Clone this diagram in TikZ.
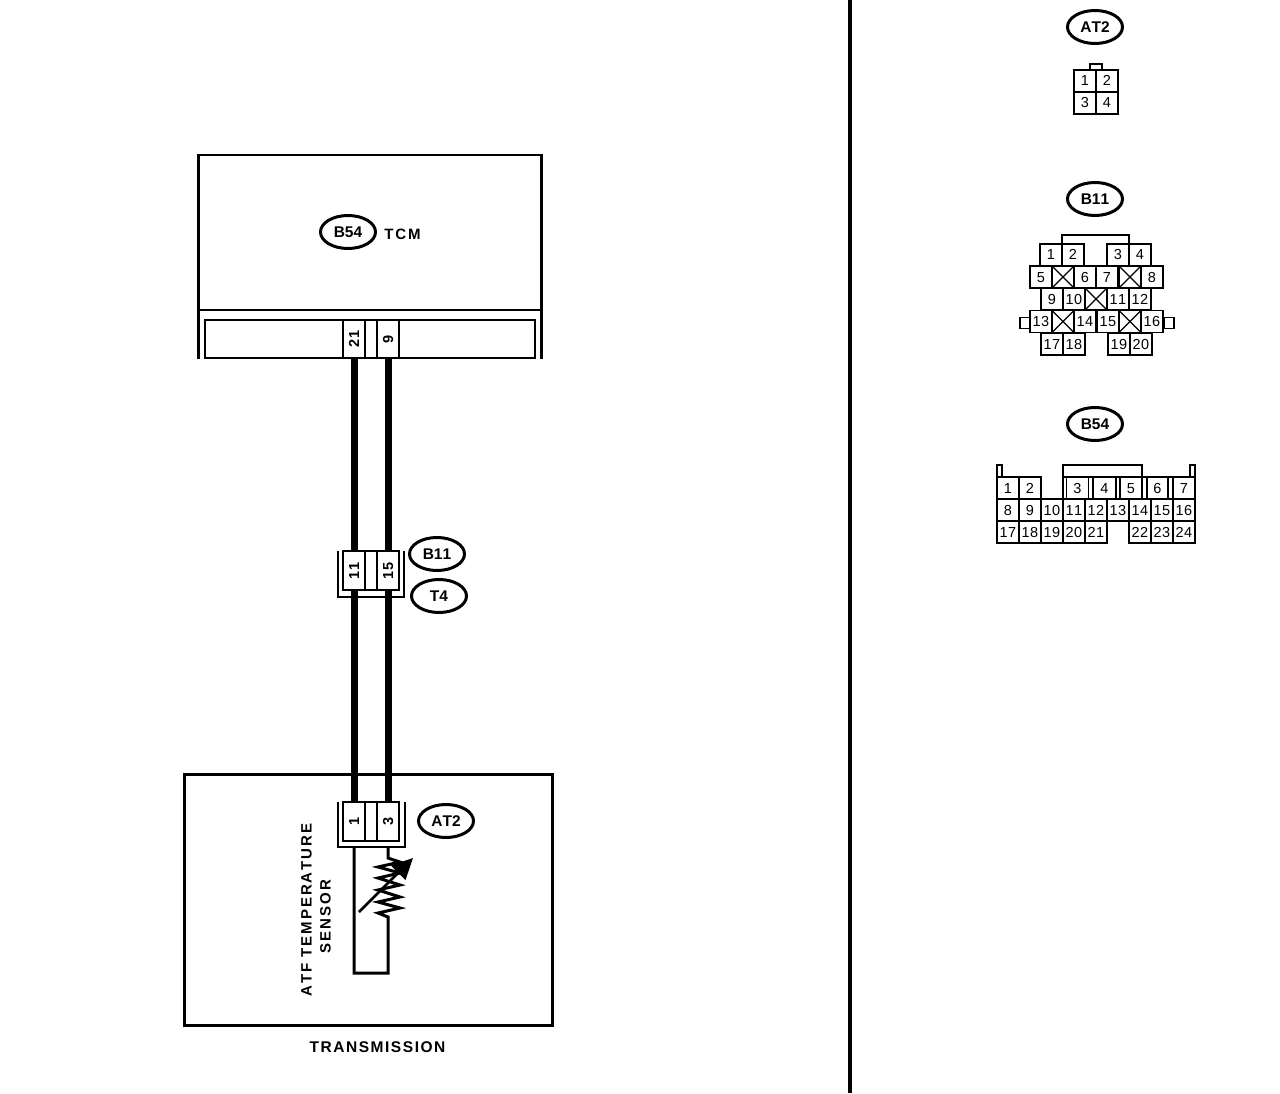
\documentclass[tikz,border=0pt]{standalone}
\usepackage{fontspec}
\setmainfont[Kerning=Off]{Liberation Sans}
\usetikzlibrary{arrows.meta,shapes.geometric}
\newcommand{\pxfont}[1]{\fontsize{#1}{#1}\selectfont}
\tikzset{
  x=1pt,y=-1pt,
  hair/.style={line width=1.2pt,draw=black},
  heavy/.style={line width=2.8pt,draw=black,line join=miter},
  wire/.style={line width=7pt,draw=black},
  tagell/.style={ellipse,draw=black,line width=3pt,minimum width=55pt,minimum height=33pt,inner sep=0pt,text height=11pt,text depth=0pt,font=\pxfont{15.5}\bfseries},
  cellbox/.style={rectangle,draw=black,line width=1.2pt,minimum width=22pt,minimum height=22pt,inner sep=0pt,outer sep=0pt,text height=10pt,text depth=0pt,font=\pxfont{14.5}\addfontfeature{LetterSpace=3}},
  pinbox/.style={rectangle,draw=black,line width=2.6pt,rotate=90,minimum width=39pt,minimum height=22pt,inner sep=0pt,outer sep=0pt,text height=10pt,text depth=0pt,font=\pxfont{14.5}\bfseries\addfontfeature{LetterSpace=6}},
  gapbox/.style={rectangle,draw=black,line width=2.6pt,minimum height=39pt,minimum width=12pt,inner sep=0pt,outer sep=0pt},
  lbl/.style={inner sep=0pt,text height=11pt,text depth=0pt,font=\pxfont{15}\bfseries\addfontfeature{LetterSpace=13}},
}
\begin{document}
\begin{tikzpicture}
\useasboundingbox (0,0) rectangle (1280,1094);
\fill[white] (0,0) rectangle (1280,1094);
% divider
\coordinate (divtop) at (850,0);
\coordinate (divbot) at (850,1093);
\draw[black,line width=4pt] (divtop) -- (divbot);

% TCM
\node[draw=black,line width=2.8pt,minimum width=343pt,minimum height=155pt,inner sep=0,outer sep=0,rectangle] (tcm) at (370,232.5) {};
\coordinate (tcmL) at (198.5,359); \coordinate (tcmR) at (541.5,359);
\draw[heavy] (tcm.south west) -- (tcmL);
\draw[heavy] (tcm.south east) -- (tcmR);
\node[rectangle,draw=black,line width=2.8pt,minimum width=330pt,minimum height=38pt,inner sep=0,outer sep=0] (tcmbar) at (370,339) {};
\node[tagell] (tagB54a) at (348,232) {B54};
\node[lbl] (tcmtxt) at (402.5,234) {TCM};
\node[pinbox,minimum width=38pt] (p21) at (354,339) {21};
\node[gapbox,minimum height=38pt] (g1) at (371,339) {};
\node[pinbox,minimum width=38pt] (p9) at (388,339) {9};

% B11/T4 joint
\node[pinbox] (p11) at (354,570.5) {11};
\node[gapbox] (g2) at (371,570.5) {};
\node[pinbox] (p15) at (388,570.5) {15};
\coordinate (ua) at (338,551); \coordinate (ub) at (338,597); \coordinate (uc) at (404,597); \coordinate (ud) at (404,551);
\node[tagell] (tagB11a) at (437,554) {B11};
\node[tagell] (tagT4) at (439,596) {T4};

% Transmission
\node[draw=black,line width=2.8pt,rectangle,minimum width=368pt,minimum height=251pt,inner sep=0,outer sep=0] (trans) at (368.5,900) {};
\node[lbl,font=\pxfont{15.5}\bfseries\addfontfeature{LetterSpace=10}] (transtxt) at (377.5,1047) {TRANSMISSION};

% AT2 joint
\node[pinbox] (p1) at (354,821.5) {1};
\node[gapbox] (g3) at (371,821.5) {};
\node[pinbox] (p3) at (388,821.5) {3};
\coordinate (va) at (338,802); \coordinate (vb) at (338,847); \coordinate (vc) at (405,847); \coordinate (vd) at (405,802);
\node[tagell] (tagAT2a) at (446,821) {AT2};

% U brackets
\draw[heavy] (ua) -- (ub) -- (uc) -- (ud);
\draw[heavy] (va) -- (vb) -- (vc) -- (vd);

% wires
\draw[wire] (p21.west) -- (p11.east);
\draw[wire] (p9.west) -- (p15.east);
\draw[wire] (p11.west) -- (p1.east);
\draw[wire] (p15.west) -- (p3.east);

% sensor loop
\coordinate (l1) at (354,847);
\coordinate (l2) at (354,973);
\coordinate (l3) at (388,973);
\coordinate (l4) at (388,917);
\coordinate (l5) at (388,847);
\coordinate (l6) at (388,858);
\draw[heavy,line width=3pt] (l1) -- (l2) -- (l3) -- (l4)
  -- (378,913) -- (400,908) -- (378,902) -- (400,897) -- (378,890) -- (400,885) -- (378,878) -- (400,873) -- (378,867) -- (400,862) -- (l6) -- (l5);
\coordinate (arrS) at (359,912);
\coordinate (arrE) at (413,858);
\draw[line width=2.8pt,-{Triangle[length=21pt,width=20pt]}] (arrS) -- (arrE);
\node[lbl,rotate=90] (atf) at (306,910) {ATF TEMPERATURE};
\node[lbl,rotate=90] (sens) at (325,916.5) {SENSOR};

% AT2 connector
\node[tagell] (tagAT2b) at (1095,27) {AT2};
\foreach \n/\x/\y in {1/1085/81,2/1107/81,3/1085/103,4/1107/103}
  \node[cellbox] (at\n) at (\x,\y) {\n};
\node[cellbox,minimum width=12pt,minimum height=6pt,text height=0pt] (attab) at (1096,67) {};

% B11 connector
\node[tagell] (tagB11b) at (1095,199) {B11};
\foreach \n/\x/\y in {1/1051/255,2/1073/255,3/1118/255,4/1140/255,
  5/1041/277,6/1085/277,7/1107/277,8/1152/277,
  9/1052/299,10/1074/299,11/1118/299,12/1140/299,
  13/1041/321.5,14/1085/321.5,15/1108/321.5,16/1152/321.5,
  17/1052/344,18/1074/344,19/1119/344,20/1141/344}
  \node[cellbox] (bb\n) at (\x,\y) {\n};
\foreach \n/\x/\y in {a/1063/277,b/1130/277,c/1096/299,d/1063/321.5,e/1130/321.5}{
  \node[cellbox] (bx\n) at (\x,\y) {};
  \draw[hair] (bx\n.north west) -- (bx\n.south east) (bx\n.north east) -- (bx\n.south west);
}
\node[cellbox,minimum width=10pt,minimum height=11pt,text height=0pt] (bbtl) at (1025,323) {};
\node[cellbox,minimum width=10pt,minimum height=11pt,text height=0pt] (bbtr) at (1169,323) {};
\coordinate (brC) at (1129,235);
\draw[line width=1.6pt] (bb2.north west) |- (brC) -- (bb3.north east);

% B54 connector
\node[tagell] (tagB54b) at (1095,424) {B54};
\foreach \n/\x in {1/1008,2/1030}
  \node[cellbox] (cc\n) at (\x,488) {\n};
\node[cellbox,minimum width=22pt] (cc3) at (1077.5,488) {3};
\node[cellbox,minimum width=23pt] (cc4) at (1104.5,488) {4};
\node[cellbox,minimum width=22pt] (cc5) at (1131,488) {5};
\node[cellbox,minimum width=21pt] (cc6) at (1157.5,488) {6};
\node[cellbox] (cc7) at (1184,488) {7};
\foreach \n/\x in {8/1008,9/1030,10/1052,11/1074,12/1096,13/1118,14/1140,15/1162,16/1184}
  \node[cellbox] (cc\n) at (\x,510) {\n};
\foreach \n/\x in {17/1008,18/1030,19/1052,20/1074,21/1096,22/1140,23/1162,24/1184}
  \node[cellbox] (cc\n) at (\x,532) {\n};
\node[cellbox,minimum width=5pt,minimum height=12pt,text height=0pt] (cctl) at (999.5,471) {};
\node[cellbox,minimum width=5pt,minimum height=12pt,text height=0pt] (cctr) at (1192.5,471) {};
\coordinate (brA) at (1063,499); \coordinate (brB) at (1142,477); \coordinate (brD) at (1142,465); \coordinate (brF) at (1063,477); \coordinate (brE) at (1195,477);
\draw[line width=1.6pt] (brA) |- (brD) -- (brB);
\draw[hair] (brF) -- (brE);
\end{tikzpicture}
\end{document}
